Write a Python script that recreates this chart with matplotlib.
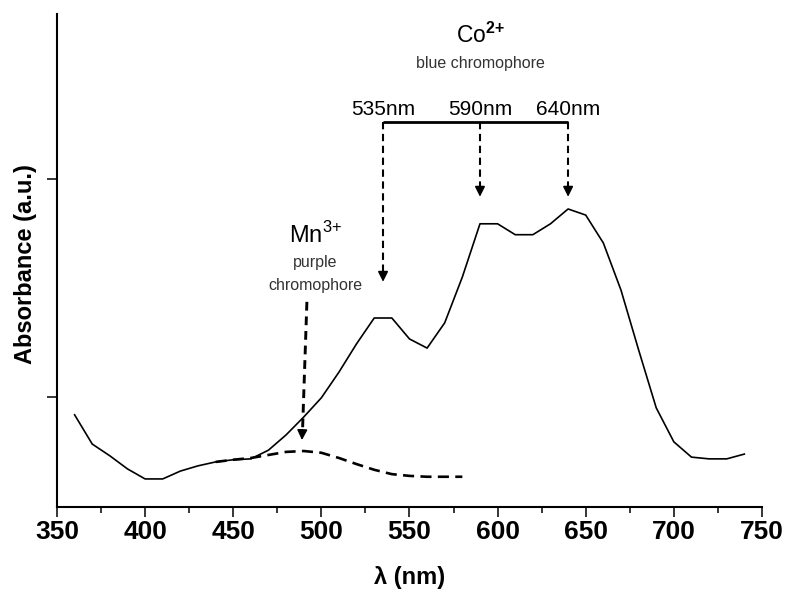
import matplotlib
matplotlib.use("Agg")
import matplotlib.pyplot as plt
from matplotlib.ticker import MultipleLocator, NullFormatter

plt.rcParams["font.family"] = ["Liberation Sans", "DejaVu Sans"]
plt.rcParams["mathtext.fontset"] = "custom"
plt.rcParams["mathtext.rm"] = "Liberation Sans"
plt.rcParams["mathtext.bf"] = "Liberation Sans:bold"

# Total absorbance spectrum (Co2+ + Mn3+)
wavelength = [360, 370, 380, 390, 400, 410, 420, 430, 440, 450, 460, 470, 480,
              490, 500, 510, 520, 530, 540, 550, 560, 570, 580, 590, 600, 610,
              620, 630, 640, 650, 660, 670, 680, 690, 700, 710, 720, 730, 740]
absorbance = [0.459, 0.392, 0.365, 0.335, 0.312, 0.312, 0.330, 0.342, 0.351,
              0.356, 0.358, 0.378, 0.413, 0.454, 0.498, 0.557, 0.622, 0.681,
              0.681, 0.633, 0.612, 0.670, 0.775, 0.897, 0.897, 0.872, 0.872,
              0.897, 0.931, 0.917, 0.853, 0.745, 0.608, 0.475, 0.397, 0.362,
              0.358, 0.358, 0.369]

# Mn3+ contribution
mn_wavelength = [440, 450, 460, 470, 480, 490, 500, 510, 520, 530, 540, 550,
                 560, 570, 580]
mn_absorbance = [0.351, 0.356, 0.360, 0.367, 0.374, 0.376, 0.372, 0.360,
                 0.346, 0.333, 0.323, 0.319, 0.317, 0.317, 0.317]

# Co2+ absorption bands
co_bands = [535, 590, 640]
co_labels = ["535nm", "590nm", "640nm"]
co_tips = [0.764, 0.959, 0.959]

x_ticks = [350, 400, 450, 500, 550, 600, 650, 700, 750]
y_ticks = [0.5, 1.0]

fig = plt.figure(figsize=(7.87, 5.94), dpi=100)
ax = fig.add_axes([0.0724, 0.1465, 0.8958, 0.8299])

ax.plot(wavelength, absorbance, color="black", lw=1.2)
ax.plot(mn_wavelength, mn_absorbance, color="black", lw=1.9, dashes=(4.2, 2.4))

ax.set_xlim(350, 750)
ax.set_ylim(0.2477, 1.378)
ax.set_xticks(x_ticks)
ax.xaxis.set_minor_locator(MultipleLocator(25))
ax.set_yticks(y_ticks)
ax.yaxis.set_major_formatter(NullFormatter())

for side in ("top", "right"):
    ax.spines[side].set_visible(False)
for side in ("left", "bottom"):
    ax.spines[side].set_linewidth(1.5)

ax.tick_params(axis="both", which="major", direction="out", length=7.2,
               width=1.1, pad=2)
ax.tick_params(axis="x", which="minor", direction="out", length=4.3, width=1.1)
for lab in ax.get_xticklabels():
    lab.set_fontsize(19)
    lab.set_fontweight("bold")

ax.set_xlabel("λ (nm)", fontsize=17, fontweight="bold")
ax.xaxis.label.set_va("center")
ax.xaxis.set_label_coords(0.5, -0.144)
ax.set_ylabel("Absorbance (a.u.)", fontsize=17, fontweight="bold")
ax.yaxis.label.set_va("center")
ax.yaxis.set_label_coords(-0.045, 0.493)

# Co2+ bracket with arrows to the three bands
bar_y = 1.131
ax.plot([co_bands[0], co_bands[-1]], [bar_y, bar_y], color="black", lw=2.0,
        solid_capstyle="butt")
head = 0.02
for band, tip, label in zip(co_bands, co_tips, co_labels):
    ax.plot([band, band], [bar_y, tip + head], color="black", lw=1.5,
            dashes=(3.5, 2.2))
    ax.annotate("", xy=(band, tip), xytext=(band, tip + head + 0.004),
                arrowprops=dict(arrowstyle="-|>,head_length=0.6,head_width=0.3",
                                color="black", lw=1.2, shrinkA=0, shrinkB=0))
    ax.text(band, 1.147, label, fontsize=15, ha="center", va="baseline")

ax.text(590.5, 1.312, r"Co$^{\mathbf{2{+}}}$", fontsize=16.5, ha="center",
        va="baseline")
ax.text(590, 1.254, "blue chromophore", fontsize=11.5, color="#333333",
        ha="center", va="baseline")

# Mn3+ label and arrow
ax.text(496.5, 0.853, r"Mn$^{3{+}}$", fontsize=17, ha="center", va="baseline")
ax.text(496.5, 0.797, "purple", fontsize=11.5, color="#333333", ha="center",
        va="baseline")
ax.text(496.5, 0.746, "chromophore", fontsize=11.5, color="#333333",
        ha="center", va="baseline")
ax.plot([491.8, 489.3], [0.718, 0.401 + head], color="black", lw=2.1,
        dashes=(3.0, 2.0))
ax.annotate("", xy=(489.0, 0.401), xytext=(489.2, 0.401 + head + 0.004),
            arrowprops=dict(arrowstyle="-|>,head_length=0.6,head_width=0.3",
                            color="black", lw=1.2, shrinkA=0, shrinkB=0))

fig.savefig("out.png", dpi=100)
